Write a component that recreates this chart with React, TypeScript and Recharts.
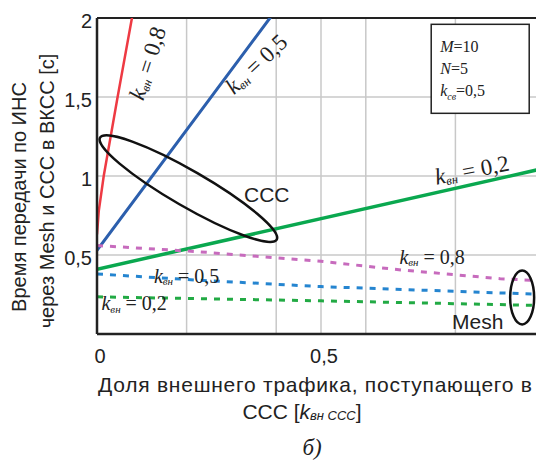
import React from "react";
import {
  CartesianGrid,
  Line,
  LineChart,
  ReferenceDot,
  ReferenceLine,
  XAxis,
  YAxis,
} from "recharts";

// ССС curves (solid), x = доля внешнего трафика, y = время [c]
const cccK08 = [
  { x: 0, y: 0.63 },
  { x: 0.004, y: 0.78 },
  { x: 0.015, y: 1.0 },
  { x: 0.046, y: 1.5 },
  { x: 0.078, y: 2.0 },
  { x: 0.09, y: 2.2 },
];
const cccK05 = [
  { x: 0, y: 0.53 },
  { x: 0.386, y: 2.0 },
  { x: 0.42, y: 2.13 },
];
const cccK02 = [
  { x: 0, y: 0.41 },
  { x: 1, y: 1.05 },
];

// Mesh curves (dashed)
const meshK08 = [
  { x: 0, y: 0.56 },
  { x: 0.23, y: 0.52 },
  { x: 0.5, y: 0.46 },
  { x: 0.68, y: 0.405 },
  { x: 0.9, y: 0.35 },
  { x: 1, y: 0.335 },
];
const meshK05 = [
  { x: 0, y: 0.38 },
  { x: 0.23, y: 0.34 },
  { x: 0.5, y: 0.3 },
  { x: 0.75, y: 0.275 },
  { x: 1, y: 0.25 },
];
const meshK02 = [
  { x: 0, y: 0.235 },
  { x: 0.5, y: 0.21 },
  { x: 1, y: 0.18 },
];

const xTicks = [0, 0.2, 0.4, 0.5, 0.6, 0.8, 1];
const xLabeled = [0, 0.5];
const yTicks = [0, 0.5, 1, 1.5, 2];

// curve annotations: anchor in data units, angle, size
const kLabels = [
  { x: 0.112, y: 1.715, angle: -72, size: 23, value: "0,8" },
  { x: 0.355, y: 1.71, angle: -43, size: 23, value: "0,5" },
  { x: 0.837, y: 1.04, angle: -11, size: 23, value: "0,2" },
  { x: 0.748, y: 0.49, angle: 0, size: 20, value: "0,8" },
  { x: 0.2, y: 0.37, angle: 0, size: 20, value: "0,5" },
  { x: 0.083, y: 0.196, angle: 0, size: 20, value: "0,2" },
];

const SANS = "'Liberation Sans', Arial, sans-serif";
const SERIF = "'Liberation Serif', 'Times New Roman', serif";
const fmt = (v: number) => String(v).replace(".", ",");

const KLabel = ({ cx, cy, angle, size, value }: any) => (
  <text
    x={cx}
    y={cy}
    textAnchor="middle"
    dominantBaseline="central"
    transform={`rotate(${angle} ${cx} ${cy})`}
    fontFamily={SERIF}
    fontSize={size}
    fill="#222"
  >
    <tspan fontStyle="italic">k</tspan>
    <tspan fontStyle="italic" fontSize={size * 0.55} dy={size * 0.28}>
      вн
    </tspan>
    <tspan dy={-size * 0.28}>{` = ${value}`}</tspan>
  </text>
);

const ParamBox = ({ cx, cy }: any) => (
  <g fontFamily={SERIF} fontSize={16} fill="#222">
    <rect x={cx} y={cy} width={98} height={89} fill="#fff" stroke="#222" strokeWidth={1.5} />
    <text x={cx + 9} y={cy + 28}>
      <tspan fontStyle="italic">M</tspan>=10
    </text>
    <text x={cx + 9} y={cy + 50}>
      <tspan fontStyle="italic">N</tspan>=5
    </text>
    <text x={cx + 9} y={cy + 72}>
      <tspan fontStyle="italic">k</tspan>
      <tspan fontStyle="italic" fontSize={10} dy={4}>
        св
      </tspan>
      <tspan dy={-4}>=0,5</tspan>
    </text>
  </g>
);

const XTick = ({ x, payload }: any) =>
  xLabeled.includes(payload.value) ? (
    <text x={x + 3} y={356} textAnchor="middle" dominantBaseline="central" fontFamily={SANS} fontSize={20} fill="#222">
      {fmt(payload.value)}
    </text>
  ) : null;

const YTick = ({ y, payload }: any) =>
  payload.value === 0 ? null : (
    <text x={92} y={y + 3} textAnchor="end" dominantBaseline="central" fontFamily={SANS} fontSize={20} fill="#222">
      {fmt(payload.value)}
    </text>
  );

const YTitle = () => (
  <g fontFamily={SANS} fontSize={20} fill="#222" textAnchor="middle">
    <text x={19} y={197} dominantBaseline="central" transform="rotate(-90 19 197)">
      Время передачи по  ИНС
    </text>
    <text x={47} y={191} dominantBaseline="central" transform="rotate(-90 47 191)">
      через Mesh и ССС в ВКСС [c]
    </text>
  </g>
);

const XTitle = () => (
  <g fill="#222" textAnchor="middle">
    <text
      x={315}
      y={384}
      dominantBaseline="central"
      fontFamily={SANS}
      fontSize={21}
      textLength={434}
      lengthAdjust="spacing"
    >
      Доля внешнего трафика, поступающего в
    </text>
    <text x={302} y={411} dominantBaseline="central" fontFamily={SANS} fontSize={21}>
      ССС [<tspan fontStyle="italic">k</tspan>
      <tspan fontStyle="italic" fontSize={13} dy={4}>
        вн ССС
      </tspan>
      <tspan dy={-4}>]</tspan>
    </text>
    <text x={312} y={447} dominantBaseline="central" fontFamily={SERIF} fontStyle="italic" fontSize={23}>
      б)
    </text>
  </g>
);

export default function App() {
  return (
    <div style={{ position: "absolute", left: 0, top: 0, width: 536, height: 460, overflow: "hidden", background: "#fff" }}>
      <LineChart width={560} height={460} margin={{ top: 18, right: 15, left: 0, bottom: 0 }}>
        <CartesianGrid stroke="#c8c8c8" strokeWidth={1.5} />
        <XAxis
          type="number"
          dataKey="x"
          domain={[0, 1]}
          ticks={xTicks}
          allowDataOverflow
          height={126}
          tickLine={false}
          axisLine={{ stroke: "#222", strokeWidth: 2.5 }}
          tick={<XTick />}
          label={{ content: () => <XTitle /> }}
        />
        <YAxis
          type="number"
          domain={[0, 2]}
          ticks={yTicks}
          allowDataOverflow
          width={97}
          tickLine={false}
          axisLine={{ stroke: "#222", strokeWidth: 2.5 }}
          tick={<YTick />}
          label={{ content: () => <YTitle /> }}
        />
        <ReferenceLine y={2} stroke="#222" strokeWidth={2} />

        <Line data={cccK08} dataKey="y" stroke="#ee3a43" strokeWidth={2.5} dot={false} isAnimationActive={false} />
        <Line data={cccK05} dataKey="y" stroke="#2c5fad" strokeWidth={3} dot={false} isAnimationActive={false} />
        <Line data={cccK02} dataKey="y" stroke="#0aa84f" strokeWidth={3.5} dot={false} isAnimationActive={false} />
        <Line data={meshK08} dataKey="y" stroke="#c76bbd" strokeWidth={3} strokeDasharray="6 7" dot={false} isAnimationActive={false} />
        <Line data={meshK05} dataKey="y" stroke="#2585d0" strokeWidth={3} strokeDasharray="6 7" dot={false} isAnimationActive={false} />
        <Line data={meshK02} dataKey="y" stroke="#22aa44" strokeWidth={3} strokeDasharray="6 7" dot={false} isAnimationActive={false} />

        {kLabels.map((l, i) => (
          <ReferenceDot
            key={i}
            x={l.x}
            y={l.y}
            r={0}
            shape={(p: any) => <KLabel cx={p.cx} cy={p.cy} angle={l.angle} size={l.size} value={l.value} />}
          />
        ))}

        {/* ССС ellipse */}
        <ReferenceDot
          x={0.204}
          y={0.92}
          r={0}
          shape={(p: any) => (
            <ellipse cx={p.cx} cy={p.cy} rx={102} ry={18} transform={`rotate(30 ${p.cx} ${p.cy})`} fill="none" stroke="#111" strokeWidth={2.5} />
          )}
        />
        <ReferenceDot
          x={0.379}
          y={0.88}
          r={0}
          shape={(p: any) => (
            <text x={p.cx} y={p.cy} textAnchor="middle" dominantBaseline="central" fontFamily={SANS} fontSize={21} fill="#222">
              ССС
            </text>
          )}
        />
        {/* Mesh ellipse */}
        <ReferenceDot
          x={0.949}
          y={0.231}
          r={0}
          shape={(p: any) => <ellipse cx={p.cx} cy={p.cy} rx={12} ry={27} fill="none" stroke="#111" strokeWidth={2.5} />}
        />
        <ReferenceDot
          x={0.85}
          y={0.076}
          r={0}
          shape={(p: any) => (
            <text x={p.cx} y={p.cy} textAnchor="middle" dominantBaseline="central" fontFamily={SANS} fontSize={21} fill="#222">
              Mesh
            </text>
          )}
        />
        <ReferenceDot x={0.746} y={1.96} r={0} shape={(p: any) => <ParamBox cx={p.cx} cy={p.cy} />} />
      </LineChart>
    </div>
  );
}
